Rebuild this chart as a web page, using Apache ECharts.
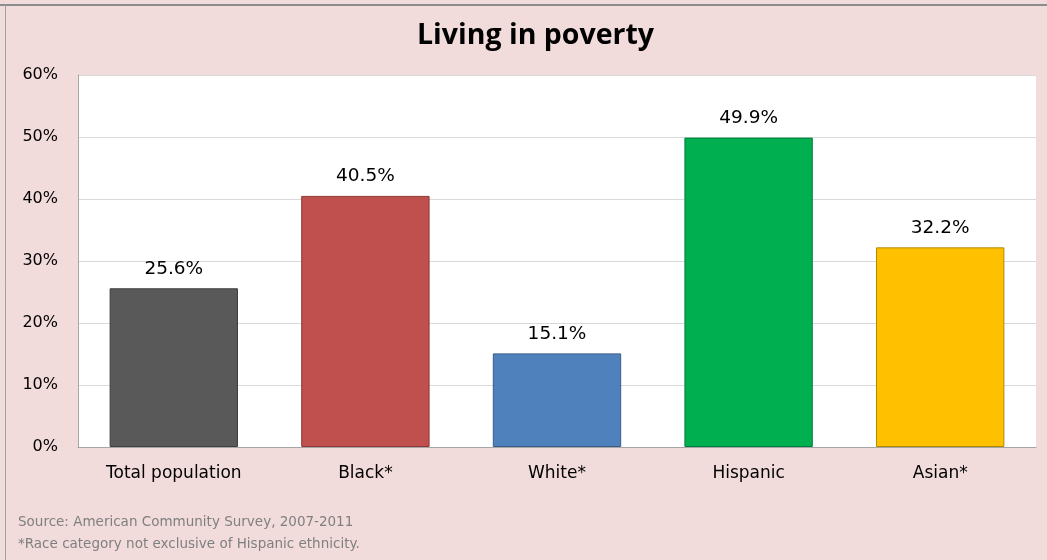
<!DOCTYPE html>
<html>
<head>
<meta charset="utf-8">
<script src="https://cdn.jsdelivr.net/npm/echarts@6/dist/echarts.min.js"></script>
<style>
  html, body { margin: 0; padding: 0; background: #f2dcdb; }
  #chart { width: 1047px; height: 560px; }
</style>
</head>
<body>
<div id="chart"></div>
<script>
// data
const categories = ['Total population', 'Black*', 'White*', 'Hispanic', 'Asian*']
const values = [25.6, 40.5, 15.1, 49.9, 32.2]
const barColors = ['#595959', '#c0504d', '#4f81bd', '#00b050', '#ffc000']
const borderColors = ['#3f3f3f', '#8c3836', '#385d8a', '#007d3c', '#b38700']

const chart = echarts.init(document.getElementById('chart'))

const option = {
  backgroundColor: '#f2dcdb',
  animation: false,
  title: {
    text: 'Living in poverty',
    left: 412,
    top: 16,
    textStyle: {
      fontFamily: 'Open Sans',
      fontWeight: 'bold',
      fontSize: 28.5,
      color: '#000'
    }
  },
  grid: {
    show: true,
    backgroundColor: '#ffffff',
    borderWidth: 0,
    left: 78,
    right: 11,
    top: 75,
    bottom: 113
  },
  xAxis: {
    type: 'category',
    data: categories,
    axisLine: { lineStyle: { color: '#a6a6a6' } },
    axisTick: { show: false },
    axisLabel: {
      color: '#000',
      fontFamily: 'DejaVu Sans',
      fontSize: 17,
      margin: 18
    }
  },
  yAxis: {
    type: 'value',
    min: 0,
    max: 60,
    interval: 10,
    axisLine: { show: true, lineStyle: { color: '#a6a6a6' } },
    axisTick: { show: false },
    splitLine: { lineStyle: { color: '#d9d9d9' } },
    axisLabel: {
      formatter: '{value}%',
      color: '#000',
      fontFamily: 'DejaVu Sans',
      fontSize: 16,
      margin: 20
    }
  },
  series: [
    {
      type: 'bar',
      barWidth: '67%',
      data: values.map((v, i) => ({
        value: v,
        itemStyle: { color: barColors[i], borderColor: borderColors[i], borderWidth: 1 }
      })),
      label: {
        show: true,
        position: 'top',
        distance: 10,
        formatter: (p) => p.value.toFixed(1) + '%',
        color: '#000',
        fontFamily: 'DejaVu Sans',
        fontSize: 18.5
      }
    }
  ],
  graphic: [
    {
      type: 'line',
      shape: { x1: 0, y1: 5, x2: 1047, y2: 5 },
      style: { stroke: '#8c8c8c', lineWidth: 2 }
    },
    {
      type: 'line',
      shape: { x1: 5.5, y1: 5, x2: 5.5, y2: 560 },
      style: { stroke: '#a0a0a0', lineWidth: 1 }
    },
    {
      type: 'text',
      left: 18,
      top: 515,
      style: {
        text: 'Source: American Community Survey, 2007-2011',
        fill: '#7f7f7f',
        font: '13.5px "DejaVu Sans"'
      }
    },
    {
      type: 'text',
      left: 18,
      top: 537,
      style: {
        text: '*Race category not exclusive of Hispanic ethnicity.',
        fill: '#7f7f7f',
        font: '13.5px "DejaVu Sans"'
      }
    }
  ]
}

chart.setOption(option)
</script>
</body>
</html>
